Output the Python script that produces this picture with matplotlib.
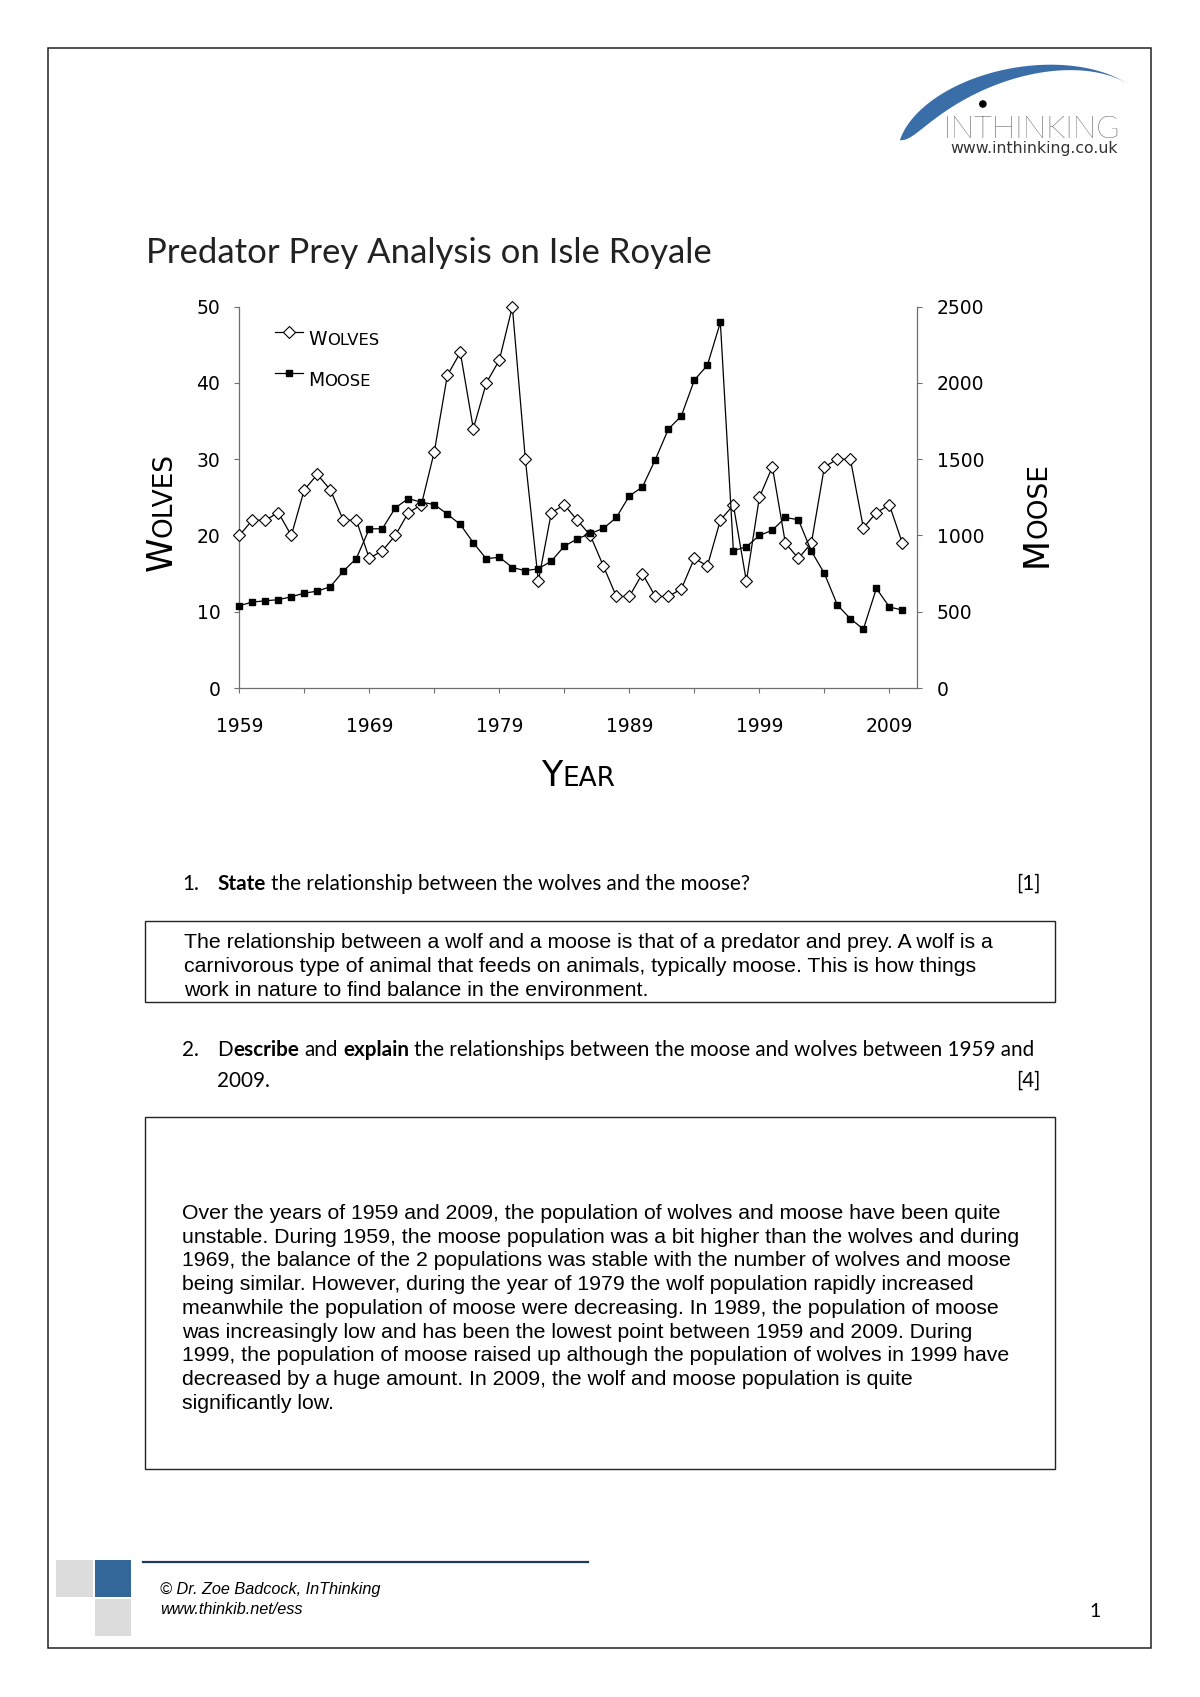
#!/usr/bin/env python3
"""Worksheet page: predator-prey chart for Isle Royale plus two answered questions."""
import matplotlib
matplotlib.use("Agg")
import matplotlib.pyplot as plt
import numpy as np
from matplotlib.patches import Circle, Polygon, Rectangle

W, H = 1200, 1697

YEARS = [1959, 1960, 1961, 1962, 1963, 1964, 1965, 1966, 1967, 1968,
         1969, 1970, 1971, 1972, 1973, 1974, 1975, 1976, 1977, 1978,
         1979, 1980, 1981, 1982, 1983, 1984, 1985, 1986, 1987, 1988,
         1989, 1990, 1991, 1992, 1993, 1994, 1995, 1996, 1997, 1998,
         1999, 2000, 2001, 2002, 2003, 2004, 2005, 2006, 2007, 2008,
         2009, 2010]
WOLVES = [20, 22, 22, 23, 20, 26, 28, 26, 22, 22,
          17, 18, 20, 23, 24, 31, 41, 44, 34, 40,
          43, 50, 30, 14, 23, 24, 22, 20, 16, 12,
          12, 15, 12, 12, 13, 17, 16, 22, 24, 14,
          25, 29, 19, 17, 19, 29, 30, 30, 21, 23,
          24, 19]
MOOSE = [540, 563, 572, 579, 598, 622, 635, 664, 766, 849,
         1044, 1044, 1181, 1242, 1218, 1203, 1140, 1072, 952, 847,
         858, 790, 769, 782, 832, 930, 978, 1013, 1046, 1118,
         1260, 1317, 1498, 1697, 1784, 2019, 2116, 2397, 900, 926,
         1000, 1035, 1118, 1103, 897, 751, 544, 454, 386, 653,
         531, 511]
SERIES = ["Wolves", "Moose"]

YEAR_TICKS = [1959, 1969, 1979, 1989, 1999, 2009]
YEAR_MINOR = [1964, 1974, 1984, 1994, 2004]
WOLF_TICKS = [0, 10, 20, 30, 40, 50]
MOOSE_TICKS = [0, 500, 1000, 1500, 2000, 2500]

TITLE = "Predator Prey Analysis on Isle Royale"
ANSWER1 = [
    "The relationship between a wolf and a moose is that of a predator and prey. A wolf is a",
    "carnivorous type of animal that feeds on animals, typically moose. This is how things",
    "work in nature to find balance in the environment.",
]
ANSWER2 = [
    "Over the years of 1959 and 2009, the population of wolves and moose have been quite",
    "unstable. During 1959, the moose population was a bit higher than the wolves and during",
    "1969, the balance of the 2 populations was stable with the number of wolves and moose",
    "being similar. However, during the year of 1979 the wolf population rapidly increased",
    "meanwhile the population of moose were decreasing. In 1989, the population of moose",
    "was increasingly low and has been the lowest point between 1959 and 2009. During",
    "1999, the population of moose raised up although the population of wolves in 1999 have",
    "decreased by a huge amount. In 2009, the wolf and moose population is quite",
    "significantly low.",
]

GRAY = "#6e6e6e"
CAPS = "DejaVu Sans"
QF = "Lato"
AF = "Liberation Sans"

fig = plt.figure(figsize=(W / 100, H / 100), dpi=100)
page = fig.add_axes([0, 0, 1, 1], zorder=0)
page.set_xlim(0, W)
page.set_ylim(H, 0)
page.axis("off")
renderer = fig.canvas.get_renderer()


def width_of(s, **kw):
    t = page.text(0, 0, s, **kw)
    w = t.get_window_extent(renderer).width
    t.remove()
    return w


def runs(x, y, parts, size, family):
    """Draw text segments (text, weight) one after another on a shared baseline."""
    sp = width_of("x x", size=size, family=family) - width_of("xx", size=size, family=family)
    for text, weight in parts:
        x += (len(text) - len(text.lstrip(" "))) * sp
        body = text.strip(" ")
        page.text(x, y, body, size=size, family=family, weight=weight, va="baseline")
        x += width_of(body, size=size, family=family, weight=weight)
        x += (len(text) - len(text.rstrip(" "))) * sp


def smallcaps(x, y, word, big, small, vertical=False, center=False):
    first, rest = word[0].upper(), word[1:].upper()
    w1 = width_of(first, size=big, family=CAPS)
    w2 = width_of(rest, size=small, family=CAPS)
    kw = dict(family=CAPS, ha="left", va="baseline", color="black")
    if vertical:
        if center:
            y = y + (w1 + w2) / 2
        kw.update(rotation=90, rotation_mode="anchor")
        page.text(x, y, first, size=big, **kw)
        page.text(x, y - w1, rest, size=small, **kw)
    else:
        if center:
            x = x - (w1 + w2) / 2
        page.text(x, y, first, size=big, **kw)
        page.text(x + w1, y, rest, size=small, **kw)


# page frame and header logo
page.add_patch(Rectangle((47.5, 47.5), 1103.5, 1600.5, fill=False, ec="#222222", lw=1.1))

theta = np.linspace(np.radians(30), np.radians(163), 140)
s = (theta - theta[0]) / (theta[-1] - theta[0])
thick = 56 * s ** 1.7 * np.sqrt(np.clip(1 - s, 0, None))
phi = np.radians(10)


def ellipse(a, b):
    lx, ly = a * np.cos(theta), b * np.sin(theta)
    return 1025 + lx * np.cos(phi) - ly * np.sin(phi), 140 - (lx * np.sin(phi) + ly * np.cos(phi))


ox, oy = ellipse(129, 73)
ix, iy = ellipse(129 - thick, 73 - thick)
swoosh = np.column_stack([np.r_[ox, ix[::-1]], np.r_[oy, iy[::-1]]])
page.add_patch(Polygon(swoosh, closed=True, fc="#3a6ea8", ec="none"))

logo_kw = dict(size=22.5, family="Lato", weight="light", color="black", va="baseline")
page.text(943, 138, "INTHINKING", **logo_kw)
t_x = 943 + width_of("IN", **logo_kw) + width_of("T", **logo_kw) / 2
page.add_patch(Circle((t_x, 104), 3.8, fc="black", ec="none"))
page.text(1118, 153, "www.inthinking.co.uk", size=11.3, family="DejaVu Sans",
          color="#333333", ha="right", va="baseline")

page.text(146, 263, TITLE, size=25, family="Lato", color="#222222", va="baseline")

# chart
ax = fig.add_axes([239.3 / W, 1 - 688 / H, (916.7 - 239.3) / W, (688 - 306.7) / H], zorder=2)
ax.patch.set_alpha(0)
ax.plot(YEARS, WOLVES, color="black", lw=0.9, marker="D", ms=6.2, mfc="white",
        mec="black", mew=0.8, clip_on=False, zorder=3)
ax2 = ax.twinx()
ax2.plot(YEARS, MOOSE, color="black", lw=0.9, marker="s", ms=4.8, mfc="black",
         mec="black", clip_on=False, zorder=3)

ax.set_xlim(1959, 2011.1)
ax.set_ylim(0, 50)
ax2.set_ylim(0, 2500)
ax.set_xticks(YEAR_TICKS)
ax.set_xticks(YEAR_MINOR, minor=True)
ax.set_yticks(WOLF_TICKS)
ax2.set_yticks(MOOSE_TICKS)

for a in (ax, ax2):
    a.spines["top"].set_visible(False)
    for sp in a.spines.values():
        sp.set_color(GRAY)
        sp.set_linewidth(0.9)
ax.spines["right"].set_visible(False)
ax2.spines["left"].set_visible(False)
ax2.spines["bottom"].set_visible(False)

tick_kw = dict(direction="out", length=3.6, width=0.8, color=GRAY, labelsize=13.5,
               labelcolor="black", labelfontfamily=CAPS)
ax.tick_params(axis="x", which="both", pad=17, **tick_kw)
ax.tick_params(axis="y", pad=10, **tick_kw)
ax2.tick_params(axis="y", pad=11, **tick_kw)

# legend: library handles, small-caps labels drawn next to them
handles = ax.get_lines() + ax2.get_lines()
leg = ax2.legend(handles, SERIES, loc="upper left", bbox_to_anchor=(275, 326),
                 bbox_transform=page.transData, frameon=False, borderpad=0,
                 borderaxespad=0, handlelength=2.0, handletextpad=0.25,
                 labelspacing=1.95, prop={"family": CAPS, "size": 10})
fig.canvas.draw()
spots = []
for t in leg.get_texts():
    bb = t.get_window_extent(renderer)
    spots.append((bb.x0 + 2, H - (bb.y0 + bb.y1) / 2 + 12))
    t.set_text("")
for (lx, ly), name in zip(spots, SERIES):
    smallcaps(lx, ly, name, 13.5, 11.8)

smallcaps(171.7, 512, "Wolves", 25, 19, vertical=True, center=True)
smallcaps(1047, 515, "Moose", 25, 19, vertical=True, center=True)
smallcaps(578, 786, "Year", 25, 19, center=True)

# questions and answers
QS = 14.85
page.text(182, 890, "1.", size=QS, family=QF, va="baseline")
runs(217.5, 890, [("State", "bold"), (" the relationship between the wolves and the moose?", "normal")], QS, QF)
page.text(1041, 890, "[1]", size=QS, family=QF, ha="right", va="baseline")

page.add_patch(Rectangle((145, 921), 910, 81, fill=False, ec="#222222", lw=1.0))
for i, line in enumerate(ANSWER1):
    page.text(184, 948 + 24 * i, line, size=15.3, family=AF, va="baseline")

page.text(182, 1056, "2.", size=QS, family=QF, va="baseline")
runs(217.5, 1056, [("D", "normal"), ("escribe", "bold"), (" and ", "normal"), ("explain", "bold"),
                   (" the relationships between the moose and wolves between 1959 and", "normal")],
     QS, QF)
page.text(217.5, 1087, "2009.", size=QS, family=QF, va="baseline")
page.text(1041, 1087, "[4]", size=QS, family=QF, ha="right", va="baseline")

page.add_patch(Rectangle((145, 1117), 910, 352, fill=False, ec="#222222", lw=1.0))
for i, line in enumerate(ANSWER2):
    page.text(182, 1219 + 23.7 * i, line, size=15.3, family=AF, va="baseline")

# footer
page.add_patch(Rectangle((56, 1560), 37, 37, fc="#dcdcdc", ec="none"))
page.add_patch(Rectangle((95, 1560), 36, 37, fc="#336699", ec="none"))
page.add_patch(Rectangle((95, 1599), 36, 37, fc="#dcdcdc", ec="none"))
page.plot([143, 588], [1562, 1562], color="#1f3a60", lw=1.6)
page.text(160, 1594, "\u00a9 Dr. Zoe Badcock, InThinking", size=11.7, style="italic",
          family=AF, va="baseline")
page.text(160, 1614, "www.thinkib.net/ess", size=11.7, style="italic",
          family=AF, va="baseline")
page.text(1095, 1617, "1", size=14, family=QF, ha="center", va="baseline")

fig.savefig("out.png", dpi=100, facecolor="white")
